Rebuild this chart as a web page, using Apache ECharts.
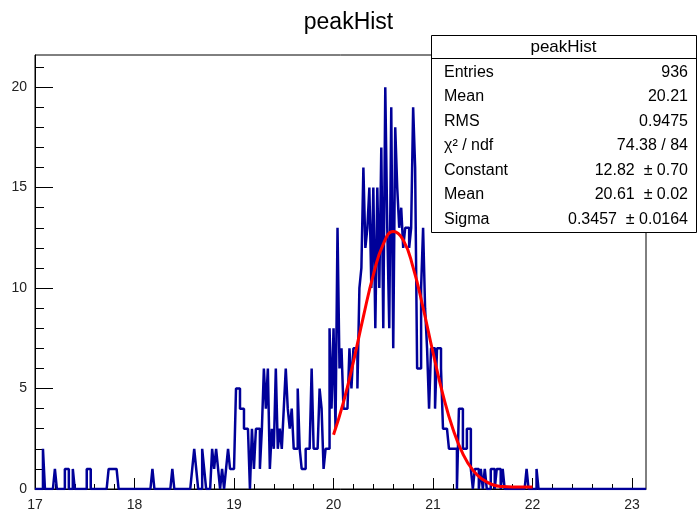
<!DOCTYPE html>
<html><head><meta charset="utf-8">
<script src="https://cdn.jsdelivr.net/npm/echarts@6/dist/echarts.min.js"></script>
<style>html,body{margin:0;padding:0;background:#fff}#c{width:697px;height:514px}</style>
</head><body><div id="c"></div>
<script>
// ---- data ----
const xMin = 17.0;
const xMax = 23.14;
const binWidth = 0.02;

// bins 17.00 - 18.98
const countsLow = [
  0,0,0,0,2,0,0,0,0,0,
  1,0,0,0,0,1,1,0,0,1,
  0,0,0,0,0,0,1,1,0,0,
  0,0,0,0,0,0,0,1,1,1,
  1,1,0,0,0,0,0,0,0,0,
  0,0,0,0,0,0,0,0,0,1,
  0,0,0,0,0,0,0,0,0,1,
  0,0,0,0,0,0,0,0,0,1,
  2,1,0,0,2,1,0,0,0,2,
  1,2,1,0,1,0,1,2,1,1
];
// bins 19.00 - 19.98
const countsMid = [
  1,5,5,4,4,3,3,3,0,3,
  1,3,3,1,3,6,4,6,1,3,
  2,6,2,3,2,4,6,4,3,4,
  2,2,5,2,1,1,2,2,2,6,
  2,2,2,5,4,1,2,2,8,4
];
// bins 20.00 - 20.98
const countsPeak = [
  8,3,13,6,7,4,4,4,7,5,
  7,7,5,10,11,16,12,13,15,10,
  15,8,15,10,17,8,20,13,8,19,
  7,18,15,13,14,12,13,13,12,13,
  19,16,6,6,10,13,9,7,4,7
];
// bins 21.00 - 23.12
const countsTail = [
  7,4,7,7,6,3,3,3,2,2,
  2,2,0,4,4,2,2,3,3,1,
  0,1,1,0,1,0,1,0,0,1,
  1,0,1,1,0,1,0,0,0,0,
  0,0,0,0,0,0,0,1,0,0,
  0,0,1,0,0,0,0,0,0,0,
  0,0,0,0,0,0,0,0,0,0,
  0,0,0,0,0,0,0,0,0,0,
  0,0,0,0,0,0,0,0,0,0,
  0,0,0,0,0,0,0,0,0,0,
  0,0,0,0,0,0,0
];

// gaussian fit curve
const fitX = [20.0,20.1,20.2,20.3,20.4,20.5,20.6,20.7,20.8,20.9,21.0,21.1,21.2,21.3,21.4,21.5,21.6,21.7,21.8,21.9,22.0];
const fitY = [2.70,4.32,6.34,8.58,10.66,12.19,12.81,12.39,11.02,9.02,6.78,4.69,2.99,1.75,0.94,0.47,0.21,0.12,0.10,0.10,0.10];

const xTickLabels = [17,18,19,20,21,22,23];
const yTickLabels = [0,5,10,15,20];

const chartTitle = 'peakHist';
const statTitle = 'peakHist';
const statLabels = ['Entries','Mean','RMS','\u03c7\u00b2 / ndf','Constant','Mean','Sigma'];
const statValues = ['936','20.21','0.9475','74.38 / 84','12.82  \u00b1 0.70','20.61  \u00b1 0.02','0.3457  \u00b1 0.0164'];

// ---- build ----
const counts = countsLow.concat(countsMid, countsPeak, countsTail);
const histData = counts.map((c, i) => [+(xMin + i * binWidth).toFixed(4), c]);
histData.push([+(xMin + counts.length * binWidth).toFixed(4), counts[counts.length - 1]]);
const fitData = fitX.map((x, i) => [x, fitY[i]]);

const xMinor = [];
for (let t = 17; t < 23.0001; t += 0.2) {
  const v = +t.toFixed(1);
  if (Math.abs(v - Math.round(v)) > 1e-6) xMinor.push(v);
}
const yMinor = [];
for (let v = 1; v <= 21; v++) if (v % 5 !== 0) yMinor.push(v);

const FONT = 'Liberation Sans, Arial, Helvetica, sans-serif';
const GL = 35, GT = 55, GR = 51, GB = 25;

const boxX = 431, boxY = 35, boxW = 265, boxH = 197, headH = 23;
const graphics = [
  { type: 'rect', shape: { x: boxX + 0.5, y: boxY + 0.5, width: boxW, height: boxH },
    style: { fill: '#fff', stroke: '#000', lineWidth: 1 }, z: 100 },
  { type: 'line', shape: { x1: boxX, y1: boxY + headH + 0.5, x2: boxX + boxW, y2: boxY + headH + 0.5 },
    style: { stroke: '#000', lineWidth: 1 }, z: 101 },
  { type: 'text', x: boxX + boxW / 2, y: boxY + headH / 2 + 1, z: 101,
    style: { text: statTitle, fill: '#000', font: '17px ' + FONT, textAlign: 'center', textVerticalAlign: 'middle' } }
];
statLabels.forEach((lab, k) => {
  const cy = 72.5 + 24.5 * k;
  graphics.push({ type: 'text', x: 444, y: cy, z: 101,
    style: { text: lab, fill: '#000', font: '16px ' + FONT, textAlign: 'left', textVerticalAlign: 'middle' } });
  graphics.push({ type: 'text', x: 688, y: cy, z: 101,
    style: { text: statValues[k], fill: '#000', font: '16px ' + FONT, textAlign: 'right', textVerticalAlign: 'middle' } });
});

const chart = echarts.init(document.getElementById('c'), null, { renderer: 'canvas' });
chart.setOption({
  animation: false,
  backgroundColor: '#fff',
  title: { text: chartTitle, left: 'center', top: 6,
    textStyle: { fontFamily: FONT, fontSize: 23, fontWeight: 'normal', color: '#000' } },
  grid: { left: GL, top: GT, right: GR, bottom: GB, show: true, borderColor: '#000', borderWidth: 1, backgroundColor: 'transparent' },
  xAxis: [
    { type: 'value', min: xMin, max: xMax, position: 'bottom',
      axisLine: { show: true, onZero: false, lineStyle: { color: '#000', width: 1 } },
      axisTick: { show: true, inside: true, length: 11, customValues: xTickLabels, lineStyle: { color: '#000' } },
      axisLabel: { show: true, customValues: xTickLabels, margin: 9, color: '#222', fontFamily: FONT, fontSize: 14 },
      splitLine: { show: false } },
    { type: 'value', min: xMin, max: xMax, position: 'bottom', gridIndex: 0,
      axisLine: { show: false },
      axisTick: { show: true, inside: true, length: 5, customValues: xMinor, lineStyle: { color: '#000' } },
      axisLabel: { show: false }, splitLine: { show: false } }
  ],
  yAxis: [
    { type: 'value', min: 0, max: 21.6, position: 'left',
      axisLine: { show: true, onZero: false, lineStyle: { color: '#000', width: 1 } },
      axisTick: { show: true, inside: true, length: 18, customValues: yTickLabels, lineStyle: { color: '#000' } },
      axisLabel: { show: true, customValues: yTickLabels, margin: 8, color: '#222', fontFamily: FONT, fontSize: 14 },
      splitLine: { show: false } },
    { type: 'value', min: 0, max: 21.6, position: 'left', gridIndex: 0,
      axisLine: { show: false },
      axisTick: { show: true, inside: true, length: 9, customValues: yMinor, lineStyle: { color: '#000' } },
      axisLabel: { show: false }, splitLine: { show: false } }
  ],
  series: [
    { type: 'line', name: 'peakHist', data: histData, step: 'end', xAxisIndex: 0, yAxisIndex: 0,
      symbol: 'none', showSymbol: false, lineStyle: { color: '#000099', width: 2.5 }, z: 3 },
    { type: 'line', name: 'fit', data: fitData, smooth: true, xAxisIndex: 0, yAxisIndex: 0,
      symbol: 'none', showSymbol: false, lineStyle: { color: '#ff0000', width: 3 }, z: 4 }
  ],
  graphic: graphics
});
</script>
</body></html>
